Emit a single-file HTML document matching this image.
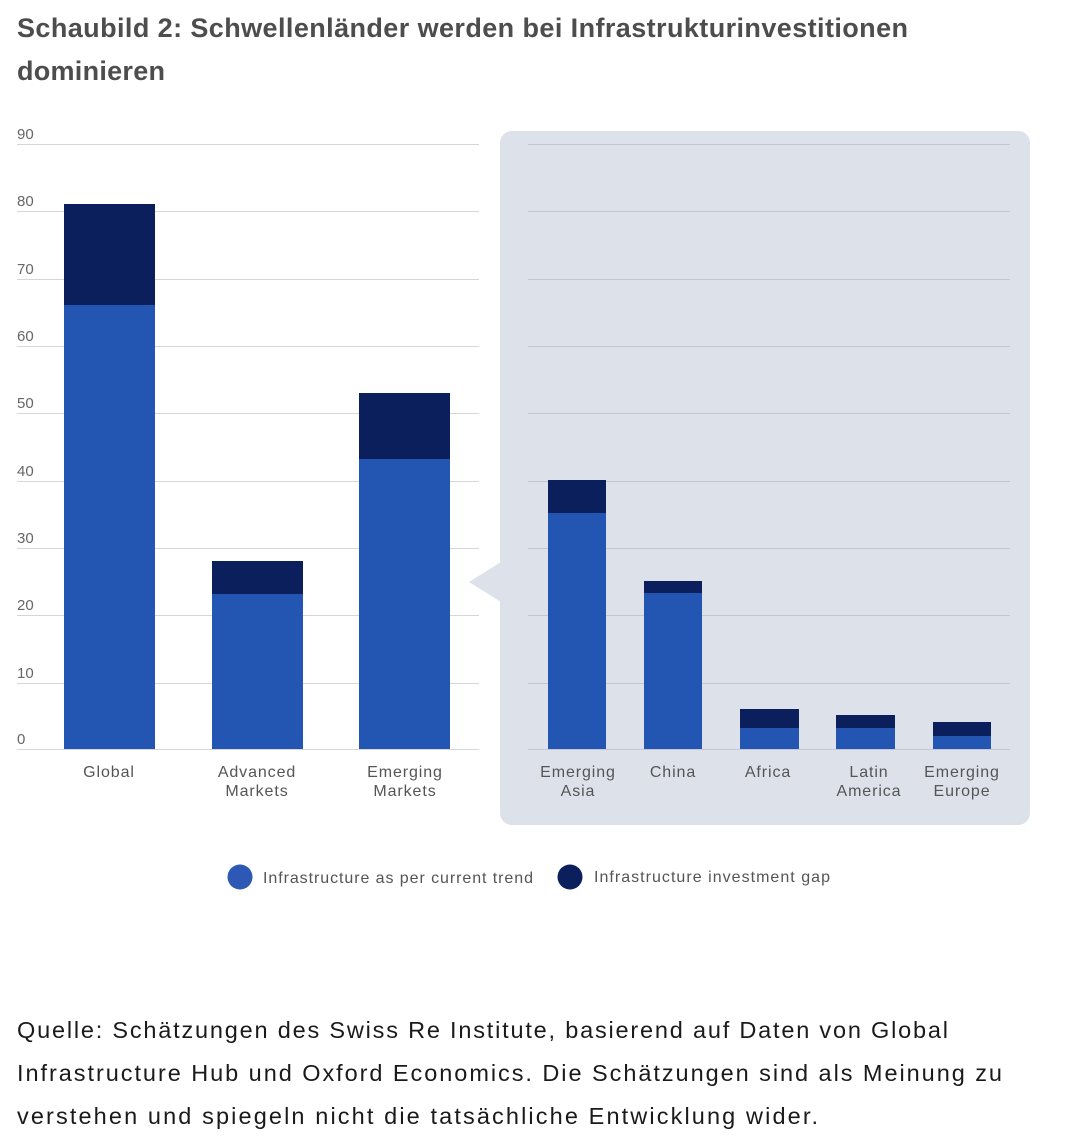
<!DOCTYPE html>
<html><head><meta charset="utf-8"><style>
body{margin:0;background:#fff;width:1070px;height:1146px;overflow:hidden;font-family:"Liberation Sans","DejaVu Sans",sans-serif;}
</style></head><body>
<svg width="1070" height="1146" xmlns="http://www.w3.org/2000/svg" style="position:absolute;left:0;top:0">
<text x="17" y="37" font-size="27" font-weight="bold" fill="#4d4d4d" textLength="891" lengthAdjust="spacing">Schaubild 2: Schwellenländer werden bei Infrastrukturinvestitionen</text>
<text x="17" y="80" font-size="27" font-weight="bold" fill="#4d4d4d" textLength="148" lengthAdjust="spacing">dominieren</text>
<rect x="500" y="131" width="530" height="694" rx="12" fill="#dde1ea"/>
<polygon points="469,582 501,562 501,602" fill="#dde1ea"/>
<g stroke="#d6d6d6" stroke-width="1">
<line x1="17" x2="479" y1="144.5" y2="144.5"/><line x1="17" x2="479" y1="211.5" y2="211.5"/><line x1="17" x2="479" y1="279.5" y2="279.5"/><line x1="17" x2="479" y1="346.5" y2="346.5"/><line x1="17" x2="479" y1="413.5" y2="413.5"/><line x1="17" x2="479" y1="481.5" y2="481.5"/><line x1="17" x2="479" y1="548.5" y2="548.5"/><line x1="17" x2="479" y1="615.5" y2="615.5"/><line x1="17" x2="479" y1="683.5" y2="683.5"/><line x1="17" x2="479" y1="749.5" y2="749.5"/>
</g>
<g stroke="#c4c7cf" stroke-width="1">
<line x1="528" x2="1010" y1="144.5" y2="144.5"/><line x1="528" x2="1010" y1="211.5" y2="211.5"/><line x1="528" x2="1010" y1="279.5" y2="279.5"/><line x1="528" x2="1010" y1="346.5" y2="346.5"/><line x1="528" x2="1010" y1="413.5" y2="413.5"/><line x1="528" x2="1010" y1="481.5" y2="481.5"/><line x1="528" x2="1010" y1="548.5" y2="548.5"/><line x1="528" x2="1010" y1="615.5" y2="615.5"/><line x1="528" x2="1010" y1="683.5" y2="683.5"/><line x1="528" x2="1010" y1="749.5" y2="749.5"/>
</g>
<g font-size="15" fill="#666">
<text x="17" y="139">90</text><text x="17" y="206">80</text><text x="17" y="274">70</text><text x="17" y="341">60</text><text x="17" y="408">50</text><text x="17" y="476">40</text><text x="17" y="543">30</text><text x="17" y="610">20</text><text x="17" y="678">10</text><text x="17" y="744">0</text>
</g>
<g fill="#2356b3">
<rect x="64" y="305" width="91" height="444"/>
<rect x="212" y="594" width="91" height="155"/>
<rect x="359" y="459" width="91" height="290"/>
<rect x="548" y="513" width="58" height="236"/>
<rect x="644" y="593" width="58" height="156"/>
<rect x="740" y="728" width="59" height="21"/>
<rect x="836" y="728" width="59" height="21"/>
<rect x="933" y="736" width="58" height="13"/>
</g>
<g fill="#0b1f5c">
<rect x="64" y="204" width="91" height="101"/>
<rect x="212" y="561" width="91" height="33"/>
<rect x="359" y="393" width="91" height="66"/>
<rect x="548" y="480" width="58" height="33"/>
<rect x="644" y="581" width="58" height="12"/>
<rect x="740" y="709" width="59" height="19"/>
<rect x="836" y="715" width="59" height="13"/>
<rect x="933" y="722" width="58" height="14"/>
</g>
<g font-size="16" fill="#555" text-anchor="middle" letter-spacing="0.9">
<text x="109" y="777">Global</text>
<text x="257" y="777">Advanced</text><text x="257" y="796">Markets</text>
<text x="405" y="777">Emerging</text><text x="405" y="796">Markets</text>
<text x="578" y="777">Emerging</text><text x="578" y="796">Asia</text>
<text x="673" y="777">China</text>
<text x="768" y="777">Africa</text>
<text x="869" y="777">Latin</text><text x="869" y="796">America</text>
<text x="962" y="777">Emerging</text><text x="962" y="796">Europe</text>
</g>
<circle cx="240" cy="877" r="12.5" fill="#2d58b4"/>
<text x="263" y="883" font-size="16" fill="#555" textLength="270" lengthAdjust="spacing">Infrastructure as per current trend</text>
<circle cx="570" cy="877" r="12.5" fill="#0b1f5c"/>
<text x="594" y="882" font-size="16" fill="#555" textLength="236" lengthAdjust="spacing">Infrastructure investment gap</text>
<g font-size="23.5" fill="#1a1a1a">
<text x="17" y="1038" textLength="931" lengthAdjust="spacing">Quelle: Schätzungen des Swiss Re Institute, basierend auf Daten von Global</text>
<text x="17" y="1081" textLength="985" lengthAdjust="spacing">Infrastructure Hub und Oxford Economics. Die Schätzungen sind als Meinung zu</text>
<text x="17" y="1124" textLength="801" lengthAdjust="spacing">verstehen und spiegeln nicht die tatsächliche Entwicklung wider.</text>
</g>
</svg>
</body></html>
